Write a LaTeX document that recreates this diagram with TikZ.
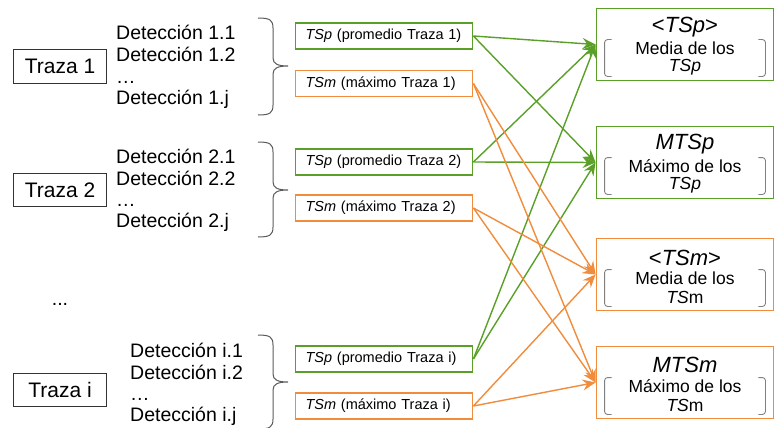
\documentclass[tikz,border=0pt]{standalone}
\usepackage{fontspec}
\setmainfont{Liberation Sans}
\usetikzlibrary{arrows.meta}
\definecolor{gr}{RGB}{90,160,40}
\definecolor{org}{RGB}{240,140,60}
\definecolor{brc}{RGB}{90,90,90}
\newcommand\mybrace[3]{\draw[brace] (258,#1) .. controls (270,#1) and (273,#1+2) .. (273,#1+10) -- (273,#2-8) .. controls (273,#2-2) and (278,#2) .. (288,#2) .. controls (278,#2) and (273,#2+2) .. (273,#2+8) -- (273,#3-10) .. controls (273,#3-2) and (270,#3) .. (258,#3);}
\newcommand\mybrackets[1]{%
  \draw[bkt] ([xshift=16pt,yshift=-32pt]#1.north west) -- ([xshift=9pt,yshift=-32pt]#1.north west) -- ([xshift=9pt,yshift=5pt]#1.south west) -- ([xshift=16pt,yshift=5pt]#1.south west);
  \draw[bkt] ([xshift=-16pt,yshift=-32pt]#1.north east) -- ([xshift=-9pt,yshift=-32pt]#1.north east) -- ([xshift=-9pt,yshift=5pt]#1.south east) -- ([xshift=-16pt,yshift=5pt]#1.south east);}
\begin{document}
\begin{tikzpicture}[x=1pt,y=-1pt,
 traza/.style={draw=black!80, line width=1pt, minimum width=93pt, minimum height=33pt, inner sep=0pt, font=\fontsize{21}{24}\selectfont},
 det/.style={anchor=base west, inner sep=0pt, font=\fontsize{19.5}{22}\selectfont},
 small/.style={line width=1.8pt, minimum height=26pt, text width=157pt, align=left, inner xsep=10pt, inner ysep=0pt, font=\fontsize{14.5}{16}\selectfont},
 tsp/.style={small, draw=gr},
 tsm/.style={small, draw=org},
 big/.style={line width=1.9pt, minimum width=177pt, minimum height=72pt, inner sep=0pt},
 ttl/.style={font=\fontsize{22}{24}\selectfont, inner sep=0pt},
 sub/.style={font=\fontsize{17.5}{20}\selectfont, inner sep=0pt},
 brace/.style={draw=brc, line width=1pt},
 bkt/.style={draw=black!50, line width=0.9pt, rounded corners=3pt},
 ga/.style={draw=gr, line width=1.4pt, -{Stealth[length=13pt,width=11pt,inset=4.5pt]}},
 oa/.style={draw=org, line width=1.4pt, -{Stealth[length=13pt,width=11pt,inset=4.5pt]}},
]
\useasboundingbox (0,0) rectangle (776,428);

% Traza boxes
\node[traza] (t1) at (60,66.5) {Traza 1};
\node[traza] (t2) at (60,190) {Traza 2};
\node[traza] (ti) at (60,389.5) {Traza i};
\node[inner sep=0pt, anchor=base, font=\fontsize{19.5}{22}\selectfont] (dots) at (60,305) {...};

% Detecciones
\node[det] (d11) at (116,40) {Detección 1.1};
\node[det] (d12) at (116,62) {Detección 1.2};
\node[det] (d1e) at (116,83) {…};
\node[det] (d1j) at (116,104.5) {Detección 1.j};
\node[det] (d21) at (116,163) {Detección 2.1};
\node[det] (d22) at (116,185) {Detección 2.2};
\node[det] (d2e) at (116,206) {…};
\node[det] (d2j) at (116,227.5) {Detección 2.j};
\node[det] (di1) at (130,357) {Detección i.1};
\node[det] (di2) at (130,379) {Detección i.2};
\node[det] (die) at (130,400) {…};
\node[det] (dij) at (130,421.5) {Detección i.j};

% braces
\mybrace{18}{66}{115}
\mybrace{142}{190}{237}
\mybrace{335}{382}{429}

% small boxes
\node[tsp] (p1) at (384,36) {\mbox{\textit{TSp} (promedio Traza 1)}};
\node[tsm] (m1) at (384,83.5) {\mbox{\textit{TSm} (máximo Traza 1)}};
\node[tsp] (p2) at (384,162) {\mbox{\textit{TSp} (promedio Traza 2)}};
\node[tsm] (m2) at (384,208) {\mbox{\textit{TSm} (máximo Traza 2)}};
\node[tsp] (pi) at (384,359) {\mbox{\textit{TSp} (promedio Traza i)}};
\node[tsm] (mi) at (384,406) {\mbox{\textit{TSm} (máximo Traza i)}};

% big boxes
\node[big, draw=gr] (b1) at (685,44.5) {};
\node[big, draw=gr] (b2) at (685,162.5) {};
\node[big, draw=org] (b3) at (685,274.5) {};
\node[big, draw=org] (b4) at (685,382.5) {};

\node[ttl] (b1t) at ([yshift=-20pt]b1.north) {<\textit{TSp}>};
\node[sub] (b1a) at ([yshift=-41pt]b1.north) {Media de los};
\node[sub] (b1b) at ([yshift=-60pt]b1.north) {\textit{TSp}};
\node[ttl] (b2t) at ([yshift=-19pt]b2.north) {\textit{MTSp}};
\node[sub] (b2a) at ([yshift=-41pt]b2.north) {Máximo de los};
\node[sub] (b2b) at ([yshift=-60pt]b2.north) {\textit{TSp}};
\node[ttl] (b3t) at ([yshift=-20pt]b3.north) {<\textit{TSm}>};
\node[sub] (b3a) at ([yshift=-41pt]b3.north) {Media de los};
\node[sub] (b3b) at ([yshift=-60pt]b3.north) {\textit{TS}m};
\node[ttl] (b4t) at ([yshift=-19pt]b4.north) {\textit{MTSm}};
\node[sub] (b4a) at ([yshift=-41pt]b4.north) {Máximo de los};
\node[sub] (b4b) at ([yshift=-60pt]b4.north) {\textit{TS}m};

\mybrackets{b1}
\mybrackets{b2}
\mybrackets{b3}
\mybrackets{b4}

% arrows
\draw[ga] (p1.east) -- (b1.west);
\draw[ga] (p1.east) -- (b2.west);
\draw[ga] (p2.east) -- (b1.west);
\draw[ga] (p2.east) -- (b2.west);
\draw[ga] (pi.east) -- (b1.west);
\draw[ga] (pi.east) -- (b2.west);
\draw[oa] (m1.east) -- (b3.west);
\draw[oa] (m1.east) -- (b4.west);
\draw[oa] (m2.east) -- (b3.west);
\draw[oa] (m2.east) -- (b4.west);
\draw[oa] (mi.east) -- (b3.west);
\draw[oa] (mi.east) -- (b4.west);
\end{tikzpicture}
\end{document}
